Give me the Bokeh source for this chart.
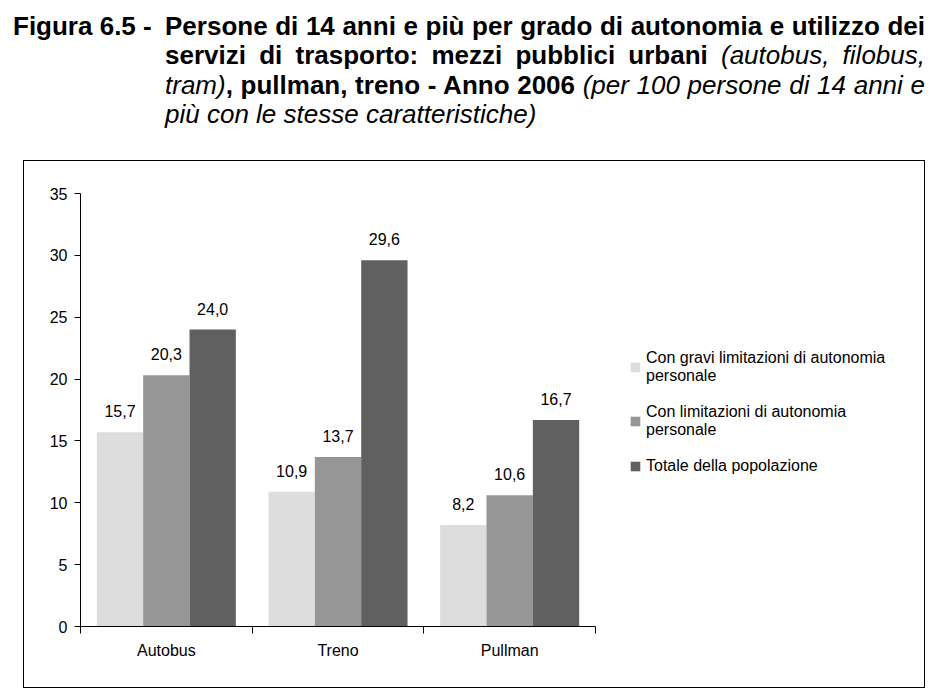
from bokeh.plotting import figure
from bokeh.models import (ColumnDataSource, FixedTicker, Legend, LegendItem, Div, Range1d)
from bokeh.layouts import column
from bokeh.core.properties import value
from bokeh.embed import file_html
from bokeh.resources import INLINE

categories = ["Autobus", "Treno", "Pullman"]
series_names = ["Con gravi limitazioni di autonomia\npersonale",
                "Con limitazioni di autonomia\npersonale",
                "Totale della popolazione"]
gravi = [15.7, 10.9, 8.2]
limitazioni = [20.3, 13.7, 10.6]
totale = [24.0, 29.6, 16.7]
y_ticks = [0, 5, 10, 15, 20, 25, 30, 35]
colors = ["#DDDDDD", "#969696", "#606060"]

title_lines = [
    ('<b>Persone di 14 anni e più per grado di autonomia e utilizzo dei</b>', True),
    ('<b>servizi di trasporto: mezzi pubblici urbani</b> <i>(autobus, filobus,</i>', True),
    ('<i>tram)</i><b>, pullman, treno - Anno 2006</b> <i>(per 100 persone di 14 anni e</i>', True),
    ('<i>più con le stesse caratteristiche)</i>', False),
]

FONT = "Liberation Sans"
lines_html = "".join(
    f'<div style="text-align:justify;text-align-last:{"justify" if j else "left"};white-space:nowrap;">{t}</div>'
    for t, j in title_lines)
title_html = (
    f'<div style="width:912px;font-family:\'{FONT}\',Arial,sans-serif;font-size:26px;'
    f'line-height:29.4px;color:#000;display:flex;">'
    f'<div style="width:152px;flex:none;font-weight:bold;white-space:nowrap;">Figura 6.5 -</div>'
    f'<div style="width:760px;flex:none;">{lines_html}</div></div>'
)
title = Div(text=title_html, width=912, height=148, margin=(12, 0, 0, 13))

# layout in pixels
W, H = 900, 526
LEFT, TOP, BOTTOM = 56, 32, 61
AXIS_PX = 515                      # length of the category axis
FRAME_W = W - LEFT
n = len(categories)
x_end = n * FRAME_W / AXIS_PX      # frame extends right to hold the legend

p = figure(width=W, height=H, output_backend="svg", toolbar_location=None,
           x_range=Range1d(0, x_end), y_range=Range1d(0, 35),
           min_border_left=LEFT, min_border_right=0, min_border_top=TOP, min_border_bottom=BOTTOM)
p.xgrid.grid_line_color = None
p.ygrid.grid_line_color = None
p.outline_line_color = None
p.background_fill_color = "white"
p.border_fill_color = "white"

BW = 0.27
renderers = []
for j, vals in enumerate([gravi, limitazioni, totale]):
    xs = [i + 0.5 + (j - 1) * BW for i in range(n)]
    src = ColumnDataSource(dict(x=xs, top=vals,
                                lab=[f"{v:.1f}".replace(".", ",") for v in vals]))
    r = p.vbar(x="x", top="top", width=BW, source=src, fill_color=colors[j], line_color=None)
    renderers.append(r)
    p.text(x="x", y="top", text="lab", source=src, text_align="center",
           text_baseline="middle", y_offset=-21, text_font=value(FONT),
           text_font_size="16px", text_color="#000")

xa = p.xaxis[0]
xa.bounds = (0, n)
xa.ticker = FixedTicker(ticks=[i + 0.5 for i in range(n)],
                        minor_ticks=list(range(n + 1)))
xa.major_label_overrides = {i + 0.5: c for i, c in enumerate(categories)}
xa.major_tick_out = 0
xa.major_tick_in = 0
xa.minor_tick_out = 7
xa.minor_tick_in = 0
xa.major_label_standoff = 8
xa.axis_line_color = "#000"
xa.minor_tick_line_color = "#000"
xa.major_label_text_font = FONT
xa.major_label_text_font_size = "16px"
xa.major_label_text_color = "#000"

ya = p.yaxis[0]
ya.ticker = FixedTicker(ticks=y_ticks)
ya.major_tick_out = 6
ya.major_tick_in = 0
ya.minor_tick_out = 0
ya.minor_tick_in = 0
ya.major_label_standoff = 7
ya.axis_line_color = "#000"
ya.major_tick_line_color = "#000"
ya.major_label_text_font = FONT
ya.major_label_text_font_size = "16px"
ya.major_label_text_color = "#000"

legend = Legend(items=[LegendItem(label=nm, renderers=[r]) for nm, r in zip(series_names, renderers)],
                location=(549, 151), orientation="vertical",
                border_line_color=None, background_fill_alpha=0,
                padding=0, margin=0, spacing=18, glyph_width=12, glyph_height=12,
                label_standoff=5, label_text_font=FONT, label_text_font_size="16px",
                label_text_line_height=1.35, label_text_color="#000")
p.add_layout(legend)

box = column(p, styles={"border": "1px solid #000"}, margin=(0, 0, 0, 23))
layout = column(title, box, spacing=0)
open("out.html", "w").write(file_html(layout, INLINE))
